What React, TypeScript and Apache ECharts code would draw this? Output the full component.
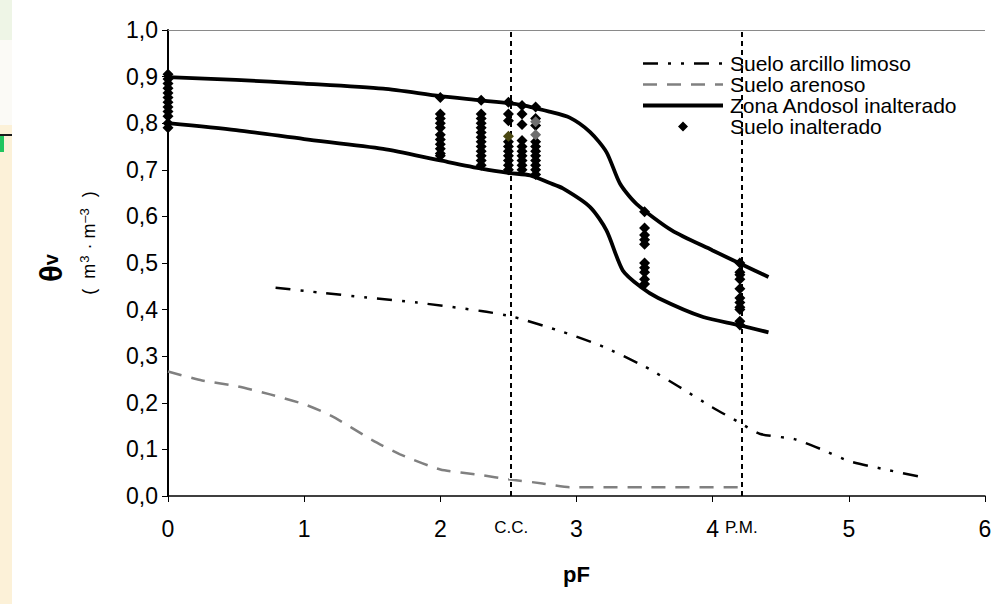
import React, { useEffect, useRef } from "react";
import * as echarts from "echarts";

// ---- data ----
const xTickValues = [0, 1, 2, 3, 4, 5, 6];
const yMin = 0;
const yMax = 1;

// Suelo arcillo limoso
const clayPF = [0.79, 1.1, 1.46, 1.83, 2.3, 2.53, 2.9, 3.2, 3.5, 3.75, 4.0, 4.2, 4.35, 4.6, 4.8, 5.0, 5.25, 5.53];
const clayTheta = [0.447, 0.437, 0.426, 0.415, 0.397, 0.385, 0.352, 0.32, 0.278, 0.235, 0.19, 0.157, 0.133, 0.122, 0.1, 0.075, 0.058, 0.041];

// Suelo arenoso
const sandPF = [0, 0.25, 0.5, 0.75, 1.0, 1.2, 1.5, 1.7, 2.0, 2.3, 2.5, 2.75, 2.95, 3.5, 4.2];
const sandTheta = [0.267, 0.248, 0.236, 0.218, 0.197, 0.172, 0.12, 0.09, 0.057, 0.045, 0.036, 0.027, 0.019, 0.019, 0.019];

// Zona Andosol inalterado (upper / lower envelope)
const upperPF = [0, 0.5, 1.0, 1.58, 2.0, 2.3, 2.58, 2.8, 2.95, 3.1, 3.22, 3.32, 3.44, 3.7, 4.0, 4.2, 4.41];
const upperTheta = [0.899, 0.893, 0.885, 0.874, 0.858, 0.849, 0.84, 0.825, 0.812, 0.781, 0.738, 0.67, 0.627, 0.57, 0.527, 0.499, 0.47];
const lowerPF = [0, 0.5, 1.0, 1.58, 2.0, 2.31, 2.51, 2.66, 2.8, 2.9, 3.1, 3.22, 3.34, 3.47, 3.6, 3.93, 4.19, 4.41];
const lowerTheta = [0.8, 0.785, 0.766, 0.745, 0.72, 0.702, 0.693, 0.688, 0.672, 0.66, 0.62, 0.57, 0.484, 0.449, 0.425, 0.384, 0.367, 0.351];

// Suelo inalterado (measured points, by pF column)
const obsPF = [0, 2.0, 2.3, 2.5, 2.6, 2.7, 3.5, 4.2];
const obsTheta = [
  [0.905, 0.895, 0.885, 0.875, 0.865, 0.855, 0.845, 0.835, 0.825, 0.815, 0.8, 0.79],
  [0.855, 0.82, 0.81, 0.8, 0.79, 0.775, 0.765, 0.755, 0.745, 0.735, 0.73],
  [0.849, 0.82, 0.81, 0.8, 0.79, 0.78, 0.77, 0.76, 0.75, 0.74, 0.73, 0.72, 0.71],
  [0.845, 0.82, 0.805, 0.76, 0.75, 0.74, 0.73, 0.72, 0.71, 0.7],
  [0.838, 0.82, 0.797, 0.763, 0.75, 0.74, 0.73, 0.72, 0.71, 0.7],
  [0.835, 0.81, 0.795, 0.76, 0.75, 0.74, 0.73, 0.72, 0.71, 0.7, 0.69],
  [0.61, 0.575, 0.56, 0.55, 0.54, 0.5, 0.49, 0.48, 0.465, 0.455],
  [0.5, 0.48, 0.475, 0.465, 0.445, 0.425, 0.415, 0.405, 0.4, 0.375, 0.367],
];
const obsTintedPF = [2.5];
const obsTintedTheta = [0.772];
const obsGreyPF = [2.7, 2.7];
const obsGreyTheta = [0.803, 0.775];

// reference lines
const ccPF = 2.52;
const pmPF = 4.21;

const NAMES = ["Suelo arcillo limoso", "Suelo arenoso", "Zona Andosol inalterado", "Suelo inalterado"];

const pairs = (xs: number[], ys: number[]) => xs.map((x, i) => [x, ys[i]]);

const DIAMOND_ICON = "path://M0 5L0.01 5ZM80 5L79.99 5ZM35 5L40 0L45 5L40 10Z";

export default function App() {
  const ref = useRef<HTMLDivElement>(null);
  useEffect(() => {
    if (!ref.current) return;
    const chart = echarts.init(ref.current, null, { renderer: "svg" });
    const font = "Liberation Sans, Arial, sans-serif";
    const obsData: number[][] = [];
    obsPF.forEach((x, i) => obsTheta[i].forEach((y) => obsData.push([x, y])));

    chart.setOption({
      animation: false,
      backgroundColor: "#ffffff",
      textStyle: { fontFamily: font },
      grid: { left: 168, top: 30, width: 817, height: 466, show: false },
      legend: {
        data: [
          { name: NAMES[0], itemStyle: { opacity: 0 }, lineStyle: { width: 2.5 } },
          { name: NAMES[1], itemStyle: { opacity: 0 }, lineStyle: { width: 2.5 } },
          { name: NAMES[2], itemStyle: { opacity: 0 }, lineStyle: { width: 4 } },
          { name: NAMES[3], icon: DIAMOND_ICON },
        ],
        orient: "vertical",
        left: 641,
        top: 53,
        itemWidth: 80,
        itemHeight: 10,
        itemGap: 0,
        padding: 0,
        symbolKeepAspect: true,
        textStyle: { fontSize: 21, color: "#000", fontFamily: font, padding: [0, 0, 0, 2] },
        selectedMode: false,
      },
      xAxis: {
        type: "value",
        min: xTickValues[0],
        max: xTickValues[xTickValues.length - 1],
        interval: 1,
        axisLine: { lineStyle: { color: "#000", width: 1.5 } },
        axisTick: { show: true, inside: false, length: 6, lineStyle: { color: "#000" } },
        axisLabel: { fontSize: 23, color: "#000", margin: 21, fontFamily: font },
        splitLine: { show: false },
        name: "pF",
        nameLocation: "middle",
        nameGap: 67,
        nameTextStyle: { fontSize: 22, fontWeight: "bold", color: "#000", fontFamily: font },
      },
      yAxis: {
        type: "value",
        min: yMin,
        max: yMax,
        interval: 0.1,
        axisLine: { show: true, lineStyle: { color: "#000", width: 2 } },
        axisTick: { show: true, inside: false, length: 6, lineStyle: { color: "#000" } },
        axisLabel: {
          fontSize: 23,
          color: "#000",
          margin: 10,
          fontFamily: font,
          formatter: (v: number) => v.toFixed(1).replace(".", ","),
        },
        splitLine: { show: false },
      },
      graphic: [
        { type: "rect", shape: { x: 0, y: 0, width: 12, height: 604 }, style: { fill: "#fcf1d8" } },
        { type: "rect", shape: { x: 0, y: 0, width: 12, height: 40 }, style: { fill: "#eef5e6" } },
        { type: "rect", shape: { x: 0, y: 40, width: 12, height: 85 }, style: { fill: "#fbfaf6" } },
        { type: "rect", shape: { x: 0, y: 134, width: 12, height: 2 }, style: { fill: "#1a1a1a" } },
        { type: "rect", shape: { x: 0, y: 136, width: 4, height: 16 }, style: { fill: "#22c55e" } },
        {
          type: "text",
          x: 51,
          y: 268,
          rotation: Math.PI / 2,
          style: {
            text: "{a|θ}{b|v}",
            align: "center",
            verticalAlign: "middle",
            rich: {
              a: { fontSize: 31, fontWeight: "bold", fill: "#000", fontFamily: font },
              b: { fontSize: 20, fontWeight: "bold", fill: "#000", fontFamily: font },
            },
          },
        },
        {
          type: "text",
          x: 89,
          y: 243,
          rotation: Math.PI / 2,
          style: {
            text: "{a|(  m}{s|3}{a| · m}{s|–3}{a|  )}",
            align: "center",
            verticalAlign: "middle",
            rich: {
              a: { fontSize: 18, fill: "#000", fontFamily: font },
              s: { fontSize: 13, fill: "#000", fontFamily: font, padding: [0, 1, 9, 1] },
            },
          },
        },
      ],
      series: [
        {
          name: NAMES[0],
          type: "line",
          symbol: "none",
          smooth: 0.2,
          data: pairs(clayPF, clayTheta),
          lineStyle: { color: "#000", width: 2.5, type: [15, 10, 3, 10, 3, 10] },
          itemStyle: { color: "#000" },
          z: 3,
        },
        {
          name: NAMES[1],
          type: "line",
          symbol: "none",
          smooth: 0.2,
          data: pairs(sandPF, sandTheta),
          lineStyle: { color: "#808080", width: 2.5, type: [14, 10] },
          itemStyle: { color: "#808080" },
          z: 3,
          markLine: {
            silent: true,
            symbol: ["none", "none"],
            lineStyle: { color: "#000", width: 2, type: [5, 4] },
            label: {
              position: "start",
              distance: 23,
              fontSize: 17,
              color: "#000",
              fontFamily: font,
            },
            data: [
              { xAxis: ccPF, label: { formatter: "C.C." } },
              { xAxis: pmPF, label: { formatter: "P.M." } },
              { yAxis: yMax, lineStyle: { color: "#8a8a8a", width: 1, type: "solid" }, label: { show: false } },
            ],
          },
        },
        {
          name: NAMES[2],
          type: "line",
          symbol: "none",
          smooth: 0.25,
          data: pairs(upperPF, upperTheta),
          lineStyle: { color: "#000", width: 3.8 },
          itemStyle: { color: "#000" },
          z: 4,
        },
        {
          name: NAMES[2],
          type: "line",
          symbol: "none",
          smooth: 0.25,
          data: pairs(lowerPF, lowerTheta),
          lineStyle: { color: "#000", width: 3.8 },
          itemStyle: { color: "#000" },
          z: 4,
        },
        {
          name: NAMES[3],
          type: "scatter",
          symbol: "diamond",
          symbolSize: 11,
          data: obsData,
          itemStyle: { color: "#000", opacity: 1 },
          z: 5,
        },
        {
          name: NAMES[3],
          type: "scatter",
          symbol: "diamond",
          symbolSize: 11,
          data: pairs(obsGreyPF, obsGreyTheta),
          itemStyle: { color: "#6e6e6e", opacity: 1 },
          z: 6,
        },
        {
          name: NAMES[3],
          type: "scatter",
          symbol: "diamond",
          symbolSize: 11,
          data: pairs(obsTintedPF, obsTintedTheta),
          itemStyle: { color: "#4a4712", opacity: 1 },
          z: 6,
        },
      ],
    });
    return () => chart.dispose();
  }, []);
  return (
    <div
      ref={ref}
      style={{ position: "fixed", left: 0, top: 0, width: 1004, height: 604, background: "#fff" }}
    />
  );
}
